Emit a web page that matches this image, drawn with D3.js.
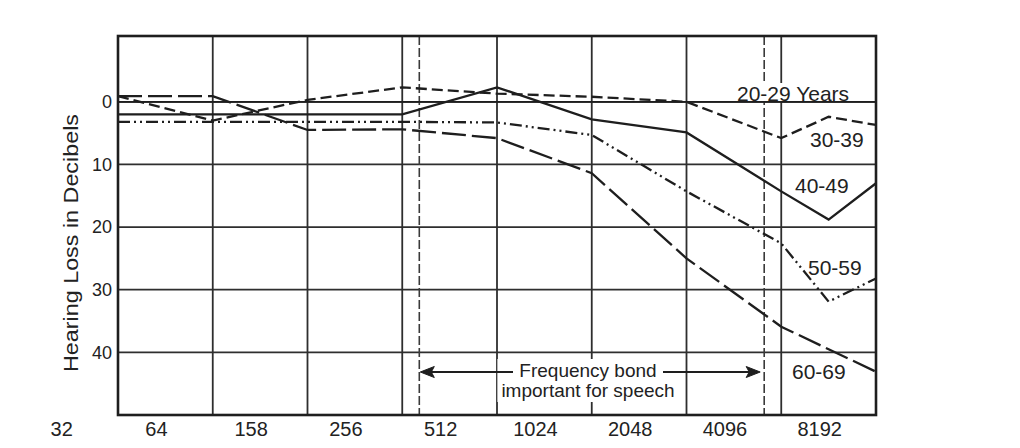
<!DOCTYPE html>
<html><head><meta charset="utf-8">
<script src="https://cdn.jsdelivr.net/npm/d3@7"></script>
<style>
body{margin:0;background:#fff}
svg{display:block}
text{font-family:"Liberation Sans", Arial, Helvetica, sans-serif; fill:#222}
</style>
</head><body><svg id="c" width="1020" height="448"></svg>
<script>
// ---- data ----
const octaves = [0, 1, 2, 3, 4, 5, 6, 7, 7.5, 8];            // measurement positions, octave steps from left edge
const freqLabels = ["32", "64", "158", "256", "512", "1024", "2048", "4096", "8192"];
const dbTicks = [0, 10, 20, 30, 40];
const ageGroups = ["20-29 Years", "30-39", "40-49", "50-59", "60-69"];
const loss2029 = [0, 0, 0, 0, 0, 0, 0, 0, 0, 0];
const loss3039 = [-0.9, 3.0, -0.3, -2.3, -1.3, -0.8, 0, 5.8, 2.4, 3.7];
const loss4049 = [2.0, 2.0, 2.0, 2.0, -2.3, 2.8, 4.9, 14.3, 18.8, 13.0];
const loss5059 = [3.2, 3.2, 3.2, 3.2, 3.3, 5.3, 14.3, 22.6, 31.9, 28.2];
const loss6069 = [-0.9, -0.9, 4.5, 4.4, 5.8, 11.4, 25.0, 35.9, 39.5, 43.1];
const speechBand = [3.18, 6.82];
const bandText = ["Frequency bond", "important for speech"];
const yTitle = "Hearing Loss in Decibels";

// ---- layout ----
const svg = d3.select("#c");
const L = 118, R = 876, T = 36, B = 415;
const x = d3.scaleLinear().domain([0, 8]).range([L, R]);
const y = d3.scaleLinear().domain([-10.5, 50]).range([T, B]);
const ink = "#1e1e1e";

const series = [loss2029, loss3039, loss4049, loss5059, loss6069];
const styles = [
  {w: 1.8, dash: null},
  {w: 2.3, dash: "11,5"},
  {w: 2.3, dash: null},
  {w: 2.3, dash: "12,4,2,4,2,4"},
  {w: 2.3, dash: "24,6"}
];
const labelPos = [[737, 101], [810, 147], [795, 193], [808, 275], [792, 379]];

// grid
const grid = svg.append("g").attr("stroke", "#2e2e2e").attr("stroke-width", 1.8);
grid.selectAll("line.v").data(d3.range(1, 8)).join("line")
  .attr("x1", d => x(d)).attr("x2", d => x(d)).attr("y1", T).attr("y2", B);
grid.selectAll("line.h").data(dbTicks).join("line")
  .attr("x1", L).attr("x2", R).attr("y1", d => y(d)).attr("y2", d => y(d));

// speech band dashed verticals
svg.append("g").selectAll("line").data(speechBand).join("line")
  .attr("x1", d => x(d)).attr("x2", d => x(d)).attr("y1", T).attr("y2", B)
  .attr("stroke", "#3a3a3a").attr("stroke-width", 1.6).attr("stroke-dasharray", "9,3");

const bgLayer = svg.append("g");
const lineLayer = svg.append("g");
const textLayer = svg.append("g");

// series
const lineGen = d3.line().x((d, i) => x(octaves[i])).y(d => y(d));
lineLayer.selectAll("path").data(series).join("path")
  .attr("d", d => lineGen(d))
  .attr("fill", "none").attr("stroke", ink)
  .attr("stroke-width", (d, i) => styles[i].w)
  .attr("stroke-dasharray", (d, i) => styles[i].dash)
  .attr("stroke-linejoin", "miter");

// age labels with white backgrounds
ageGroups.forEach((t, i) => {
  const tx = textLayer.append("text").attr("x", labelPos[i][0]).attr("y", labelPos[i][1])
    .attr("font-size", 21).text(t);
  const bb = tx.node().getBBox();
  bgLayer.append("rect").attr("x", bb.x - 2).attr("y", bb.y + 1).attr("width", bb.width + 4)
    .attr("height", bb.height - 4).attr("fill", "#fff");
});

// speech band annotation
const ay = 372, cx = 588;
const bandG = textLayer.append("g");
bandText.forEach((t, i) => {
  bandG.append("text").attr("x", cx).attr("y", 377 + i * 20).attr("text-anchor", "middle")
    .attr("font-size", 19).text(t);
});
const bbb = bandG.node().getBBox();
bgLayer.append("rect").attr("x", bbb.x - 4).attr("y", bbb.y - 1).attr("width", bbb.width + 8)
  .attr("height", bbb.height + 2).attr("fill", "#fff");
const arrows = svg.append("g").attr("stroke", ink).attr("stroke-width", 2).attr("fill", ink);
const lx = x(speechBand[0]) + 1, rx = x(speechBand[1]) - 4;
arrows.append("line").attr("x1", lx + 8).attr("x2", 513).attr("y1", ay).attr("y2", ay);
arrows.append("line").attr("x1", 663).attr("x2", rx - 8).attr("y1", ay).attr("y2", ay);
arrows.append("path").attr("stroke-width", 1)
  .attr("d", `M${lx},${ay} L${lx + 14},${ay - 5.5} L${lx + 11},${ay} L${lx + 14},${ay + 5.5} Z`);
arrows.append("path").attr("stroke-width", 1)
  .attr("d", `M${rx},${ay} L${rx - 14},${ay - 5.5} L${rx - 11},${ay} L${rx - 14},${ay + 5.5} Z`);

// border
svg.append("rect").attr("x", L).attr("y", T).attr("width", R - L).attr("height", B - T)
  .attr("fill", "none").attr("stroke", ink).attr("stroke-width", 2.6);

// y axis
const yAxis = svg.append("g").attr("transform", `translate(${L},0)`)
  .call(d3.axisLeft(y).tickValues(dbTicks).tickSize(0).tickPadding(6));
yAxis.select(".domain").remove();
yAxis.selectAll("text").attr("font-size", 18).style("font-family", "Liberation Sans, Arial, sans-serif").attr("fill", ink);

// x axis labels
const xl = d3.scalePoint().domain(freqLabels).range([x(-0.6), x(7.4)]);
const xAxis = svg.append("g").attr("transform", `translate(0,${B})`)
  .call(d3.axisBottom(xl).tickSize(0).tickPadding(6));
xAxis.select(".domain").remove();
xAxis.selectAll("text").attr("font-size", 20).attr("dy", "0.75em").style("font-family", "Liberation Sans, Arial, sans-serif").attr("fill", ink);

// y title
svg.append("text").attr("transform", "translate(78,243) rotate(-90)")
  .attr("text-anchor", "middle").attr("font-size", 21)
  .attr("textLength", 258).attr("lengthAdjust", "spacingAndGlyphs")
  .text(yTitle);
</script>
</body></html>
